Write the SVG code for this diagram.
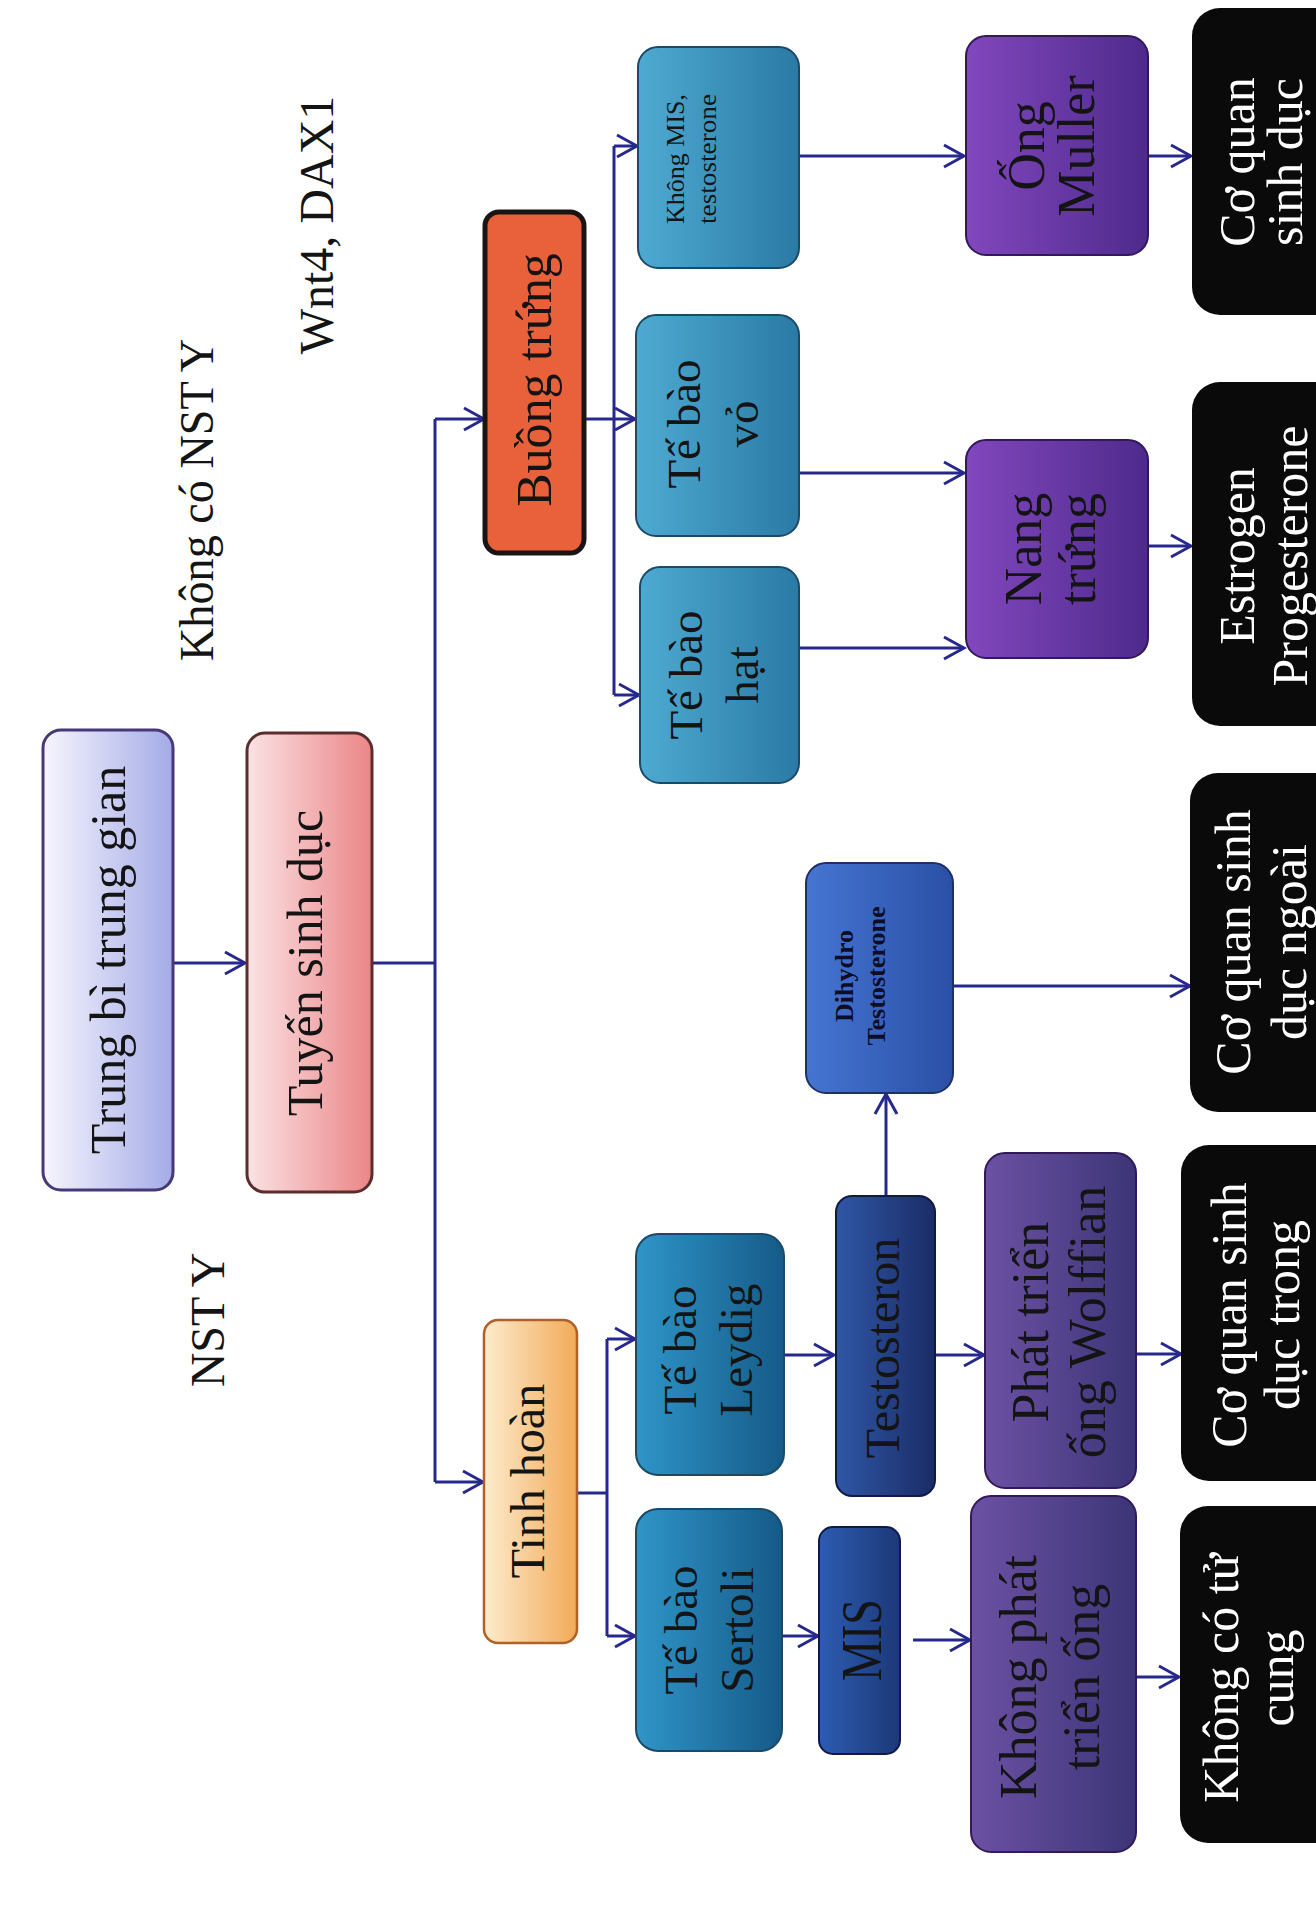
<svg xmlns="http://www.w3.org/2000/svg" width="1316" height="1906" viewBox="0 0 1316 1906">
<defs>
<linearGradient id="gTrung" x1="0" y1="0" x2="1" y2="0"><stop offset="0" stop-color="#f7f5fd"/><stop offset="1" stop-color="#a3abe7"/></linearGradient>
<linearGradient id="gTuyen" x1="0" y1="0" x2="1" y2="0"><stop offset="0" stop-color="#fbe2e4"/><stop offset="1" stop-color="#eb8587"/></linearGradient>
<linearGradient id="gTinh" x1="0" y1="0" x2="1" y2="0"><stop offset="0" stop-color="#fdebcc"/><stop offset="1" stop-color="#f2aa58"/></linearGradient>
<linearGradient id="gCellF" x1="0" y1="0" x2="1" y2="0"><stop offset="0" stop-color="#4eaad2"/><stop offset="1" stop-color="#2a7aa4"/></linearGradient>
<linearGradient id="gCellM" x1="0" y1="0" x2="1" y2="0"><stop offset="0" stop-color="#2f95c8"/><stop offset="1" stop-color="#155a88"/></linearGradient>
<linearGradient id="gPurple" x1="0" y1="0" x2="1" y2="0"><stop offset="0" stop-color="#8247bd"/><stop offset="1" stop-color="#4e2a8c"/></linearGradient>
<linearGradient id="gDusky" x1="0" y1="0" x2="1" y2="0"><stop offset="0" stop-color="#6c51a3"/><stop offset="1" stop-color="#3c3577"/></linearGradient>
<linearGradient id="gTesto" x1="0" y1="0" x2="1" y2="0"><stop offset="0" stop-color="#2f57a6"/><stop offset="1" stop-color="#1a2c66"/></linearGradient>
<linearGradient id="gMIS" x1="0" y1="0" x2="1" y2="0"><stop offset="0" stop-color="#2d5cb2"/><stop offset="1" stop-color="#1c3878"/></linearGradient>
<linearGradient id="gDHT" x1="0" y1="0" x2="1" y2="0"><stop offset="0" stop-color="#4575d2"/><stop offset="1" stop-color="#2a50a6"/></linearGradient>
<marker id="arr" markerUnits="userSpaceOnUse" markerWidth="26" markerHeight="26" viewBox="0 0 26 26" refX="23" refY="13" orient="auto">
<path d="M3,2 L23,13 L3,24" fill="none" stroke="#27288e" stroke-width="3"/>
</marker>
</defs>
<style>
text{font-family:"Liberation Serif","Times New Roman",serif;fill:#141414;text-anchor:middle}
.lbl{font-size:48px}
.big{font-size:50px}
.cell{font-size:47px}
.pur{font-size:52px}
.blk{font-size:50px;fill:#ffffff}
.small{font-size:26px}
.smallb{font-size:26px;font-weight:bold;fill:#0d0d2a}
.conn{fill:none;stroke:#27288e;stroke-width:3}
.arrow{marker-end:url(#arr)}
.bCell{stroke:#1b4a68;stroke-width:2}
.bPur{stroke:#32195a;stroke-width:2}
.bBlk{fill:#0a0a0a}
</style>
<rect width="1316" height="1906" fill="#ffffff"/>

<g id="labels">
<text class="lbl" transform="translate(333,225) rotate(-90)">Wnt4, DAX1</text>
<text class="lbl" transform="translate(213,500) rotate(-90)" textLength="322" lengthAdjust="spacingAndGlyphs">Không có NST Y</text>
<text class="lbl" transform="translate(224,1320) rotate(-90)">NST Y</text>
</g>

<g id="connectors">
<path class="conn arrow" d="M173,963 H245"/>
<path class="conn" d="M372,963 H435"/>
<path class="conn" d="M435,419 V1482"/>
<path class="conn arrow" d="M435,419 H484"/>
<path class="conn arrow" d="M435,1482 H483"/>
<path class="conn" d="M584,419 H614"/>
<path class="conn" d="M614,146 V695"/>
<path class="conn arrow" d="M614,146 H637"/>
<path class="conn arrow" d="M614,419 H635"/>
<path class="conn arrow" d="M614,695 H639"/>
<path class="conn arrow" d="M799,156 H964"/>
<path class="conn arrow" d="M799,473 H964"/>
<path class="conn arrow" d="M799,648 H964"/>
<path class="conn arrow" d="M1148,156 H1191"/>
<path class="conn arrow" d="M1148,546 H1191"/>
<path class="conn" d="M577,1493 H607"/>
<path class="conn" d="M607,1339 V1636"/>
<path class="conn arrow" d="M607,1339 H635"/>
<path class="conn arrow" d="M607,1636 H635"/>
<path class="conn arrow" d="M784,1355 H834"/>
<path class="conn arrow" d="M935,1355 H984"/>
<path class="conn arrow" d="M1136,1354 H1181"/>
<path class="conn arrow" d="M886,1196 V1094"/>
<path class="conn arrow" d="M953,986 H1190"/>
<path class="conn arrow" d="M782,1636 H818"/>
<path class="conn arrow" d="M913,1640 H970"/>
<path class="conn arrow" d="M1136,1677 H1179"/>
</g>

<g id="n-trungbi">
<rect x="43" y="730" width="130" height="460" rx="18" fill="url(#gTrung)" stroke="#473878" stroke-width="3"/>
<text class="big" transform="translate(108,960) rotate(-90)" y="17">Trung bì trung gian</text>
</g>
<g id="n-tuyen">
<rect x="247" y="733" width="125" height="459" rx="18" fill="url(#gTuyen)" stroke="#5a2e2e" stroke-width="3"/>
<text class="big" transform="translate(309.5,963) rotate(-90)" y="12">Tuyến sinh dục</text>
</g>
<g id="n-buongtrung">
<rect x="485" y="212" width="99" height="341" rx="14" fill="#e8613b" stroke="#1a1414" stroke-width="5"/>
<text class="big" transform="translate(534.5,380) rotate(-90)" y="16">Buồng trứng</text>
</g>
<g id="n-tinhhoan">
<rect x="484" y="1320" width="93" height="323" rx="14" fill="url(#gTinh)" stroke="#b0602a" stroke-width="2.5"/>
<text class="lbl" transform="translate(530.5,1481) rotate(-90)" y="13">Tinh hoàn</text>
</g>

<g id="n-khongmis">
<rect x="638" y="47" width="161" height="221" rx="20" fill="url(#gCellF)" class="bCell"/>
<text class="small" transform="translate(718.5,159) rotate(-90)"><tspan x="0" y="-35" textLength="130" lengthAdjust="spacingAndGlyphs">Không MIS,</tspan><tspan x="0" y="-3" textLength="130" lengthAdjust="spacingAndGlyphs">testosterone</tspan></text>
</g>
<g id="n-tebaovo">
<rect x="636" y="315" width="163" height="221" rx="20" fill="url(#gCellF)" class="bCell"/>
<text class="cell" transform="translate(717.5,424) rotate(-90)"><tspan x="0" y="-18">Tế bào</tspan><tspan x="0" y="40">vỏ</tspan></text>
</g>
<g id="n-tebaohat">
<rect x="640" y="567" width="159" height="216" rx="20" fill="url(#gCellF)" class="bCell"/>
<text class="cell" transform="translate(719.5,675) rotate(-90)"><tspan x="0" y="-18">Tế bào</tspan><tspan x="0" y="38">hạt</tspan></text>
</g>
<g id="n-ongmuller">
<rect x="966" y="36" width="182" height="219" rx="20" fill="url(#gPurple)" class="bPur"/>
<text class="pur" transform="translate(1057,146) rotate(-90)"><tspan x="0" y="-13">Ống</tspan><tspan x="0" y="37">Muller</tspan></text>
</g>
<g id="n-nangtrung">
<rect x="966" y="440" width="182" height="218" rx="20" fill="url(#gPurple)" class="bPur"/>
<text class="pur" transform="translate(1057,549) rotate(-90)"><tspan x="0" y="-16">Nang</tspan><tspan x="0" y="38">trứng</tspan></text>
</g>
<g id="n-cqsinhduc">
<rect x="1192" y="8" width="160" height="307" rx="28" class="bBlk"/>
<text class="blk" transform="translate(1266,162) rotate(-90)"><tspan x="0" y="-12">Cơ quan</tspan><tspan x="0" y="36">sinh dục</tspan></text>
</g>
<g id="n-estrogen">
<rect x="1192" y="382" width="160" height="344" rx="28" class="bBlk"/>
<text class="blk" transform="translate(1266,556) rotate(-90)"><tspan x="0" y="-12">Estrogen</tspan><tspan x="0" y="41">Progesterone</tspan></text>
</g>
<g id="n-cqngoai">
<rect x="1190" y="773" width="160" height="339" rx="28" class="bBlk"/>
<text class="blk" transform="translate(1266,942) rotate(-90)"><tspan x="0" y="-16">Cơ quan sinh</tspan><tspan x="0" y="40">dục ngoài</tspan></text>
</g>

<g id="n-dht">
<rect x="806" y="863" width="147" height="230" rx="20" fill="url(#gDHT)" stroke="#1f2f6a" stroke-width="2"/>
<text class="smallb" transform="translate(879.5,976) rotate(-90)"><tspan x="0" y="-27">Dihydro</tspan><tspan x="0" y="5" textLength="139" lengthAdjust="spacingAndGlyphs">Testosterone</tspan></text>
</g>
<g id="n-leydig">
<rect x="636" y="1234" width="148" height="241" rx="22" fill="url(#gCellM)" class="bCell"/>
<text class="cell" transform="translate(710,1350) rotate(-90)"><tspan x="0" y="-14">Tế bào</tspan><tspan x="0" y="42">Leydig</tspan></text>
</g>
<g id="n-sertoli">
<rect x="636" y="1509" width="146" height="242" rx="22" fill="url(#gCellM)" class="bCell"/>
<text class="cell" transform="translate(709,1630) rotate(-90)"><tspan x="0" y="-12">Tế bào</tspan><tspan x="0" y="44">Sertoli</tspan></text>
</g>
<g id="n-testosteron">
<rect x="836" y="1196" width="99" height="300" rx="16" fill="url(#gTesto)" stroke="#111a44" stroke-width="2"/>
<text class="lbl" transform="translate(885.5,1348) rotate(-90)" y="13">Testosteron</text>
</g>
<g id="n-mis">
<rect x="819" y="1527" width="81" height="227" rx="14" fill="url(#gMIS)" stroke="#111a44" stroke-width="2"/>
<text transform="translate(859.5,1640) rotate(-90)" y="21" style="font-size:56px" textLength="82" lengthAdjust="spacingAndGlyphs">MIS</text>
</g>
<g id="n-phattrien">
<rect x="985" y="1153" width="151" height="335" rx="20" fill="url(#gDusky)" class="bPur"/>
<text class="pur" transform="translate(1060.5,1322) rotate(-90)"><tspan x="0" y="-13">Phát triển</tspan><tspan x="0" y="44">ống Wolffian</tspan></text>
</g>
<g id="n-khongphattrien">
<rect x="971" y="1496" width="165" height="356" rx="20" fill="url(#gDusky)" class="bPur"/>
<text class="pur" transform="translate(1053.5,1677) rotate(-90)"><tspan x="0" y="-18">Không phát</tspan><tspan x="0" y="45">triển ống</tspan></text>
</g>
<g id="n-cqtrong">
<rect x="1181" y="1145" width="170" height="336" rx="28" class="bBlk"/>
<text class="blk" transform="translate(1266,1315) rotate(-90)"><tspan x="0" y="-20">Cơ quan sinh</tspan><tspan x="0" y="33">dục trong</tspan></text>
</g>
<g id="n-khongtucung">
<rect x="1180" y="1506" width="170" height="337" rx="28" class="bBlk"/>
<text class="blk" transform="translate(1266,1678) rotate(-90)"><tspan x="0" y="-28">Không có tử</tspan><tspan x="0" y="27">cung</tspan></text>
</g>
</svg>
